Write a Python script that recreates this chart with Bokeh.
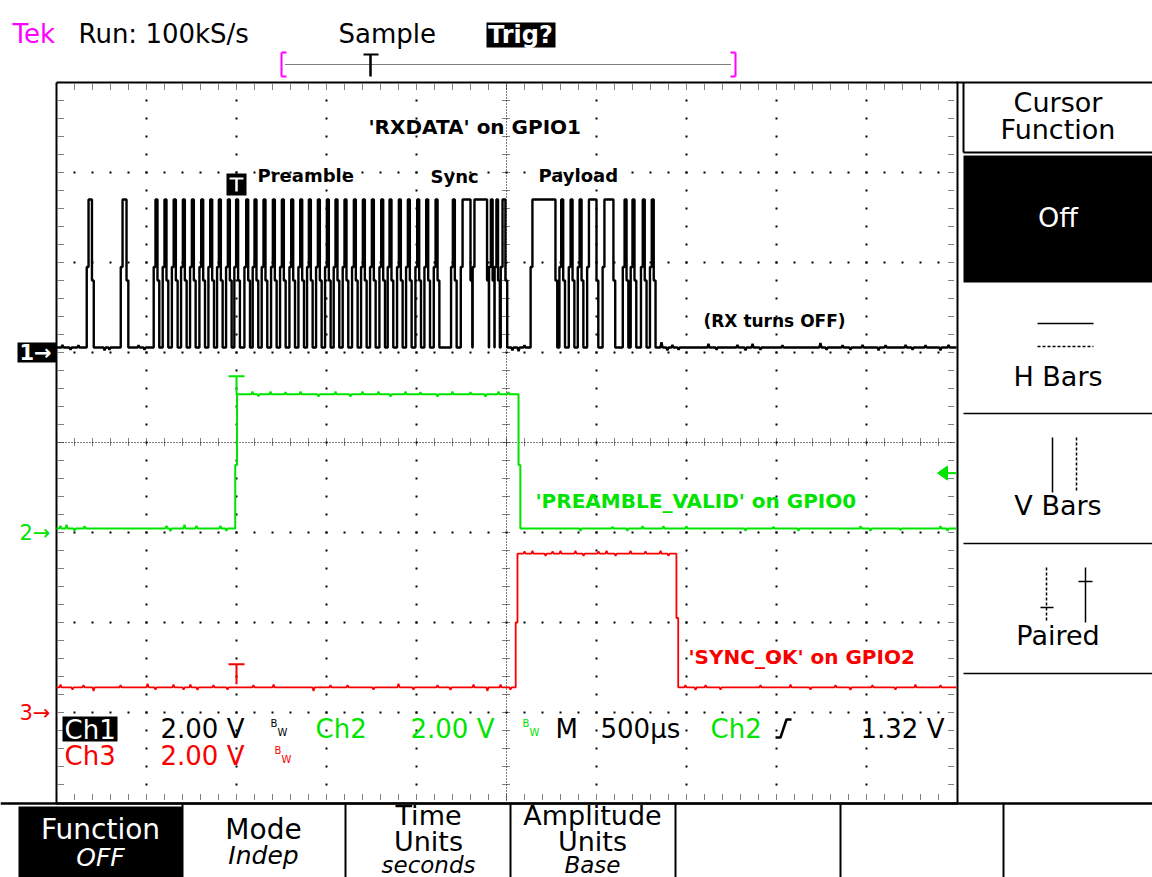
from bokeh.plotting import figure
from bokeh.models import Range1d
from bokeh.core.properties import value
from bokeh.embed import file_html
from bokeh.resources import INLINE

# ---------------- acquisition (time in ms from left screen edge, volts) ----------------
MS_PER_DIV = 0.5
VOLTS_PER_DIV = 2.0
SAMPLE_MS = 0.010          # 100 kS/s

# Ch1 'RXDATA' on GPIO1: high intervals
ch1_rise = [0.178, 0.367,
            0.550, 0.600, 0.651, 0.702, 0.752, 0.804, 0.854, 0.902, 0.952, 0.998,
            1.054, 1.100, 1.150, 1.202, 1.252, 1.304, 1.354, 1.402, 1.452, 1.502,
            1.550, 1.600, 1.652, 1.702, 1.752, 1.804, 1.850, 1.902, 1.952, 2.004,
            2.054, 2.106,
            2.202, 2.256, 2.322, 2.413, 2.444, 2.478,
            2.644, 2.804, 2.856, 2.906, 2.958, 3.044, 3.156, 3.200, 3.257, 3.307]
ch1_fall = [0.197, 0.389,
            0.561, 0.611, 0.663, 0.713, 0.763, 0.815, 0.865, 0.913, 0.963, 1.009,
            1.065, 1.111, 1.161, 1.213, 1.263, 1.315, 1.365, 1.413, 1.463, 1.513,
            1.561, 1.611, 1.663, 1.713, 1.763, 1.815, 1.861, 1.913, 1.963, 2.015,
            2.065, 2.117,
            2.213, 2.300, 2.392, 2.423, 2.453, 2.494,
            2.772, 2.815, 2.867, 2.917, 3.000, 3.094, 3.167, 3.211, 3.268, 3.318]
ch1_levels = dict(lo=0.11, hi=3.40, mid_r=1.90, mid_f=1.60)
ch1_noise_t = [0.033, 0.078, 0.122, 0.267, 0.294, 0.456, 0.489, 2.533, 2.567, 2.600,
               3.361, 3.394, 3.422, 3.456, 3.622, 3.667, 3.783, 3.828, 3.867, 3.911,
               4.033, 4.244, 4.278, 4.367, 4.411, 4.478, 4.567, 4.606, 4.717, 4.756,
               4.828, 4.911, 4.956]
ch1_noise_v = [0.06, -0.05, 0.05, -0.06, -0.05, 0.05, -0.05, -0.06, -0.08, 0.05,
               0.12, -0.06, 0.06, -0.05, 0.08, -0.05, 0.06, -0.06, 0.08, -0.05,
               0.05, 0.10, -0.05, 0.05, -0.05, 0.06, -0.06, 0.05, 0.06, -0.05,
               0.05, -0.06, 0.06]

# Ch2 'PREAMBLE_VALID' on GPIO0
ch2_rise = [1.003]
ch2_fall = [2.567]
ch2_levels = dict(lo=0.09, hi=3.07, mid_r=1.50, mid_f=1.50)
ch2_noise_t = [0.022, 0.056, 0.100, 0.156, 0.611, 0.633, 0.711, 0.778, 0.911, 0.944,
               1.089, 1.122, 1.189, 1.272, 1.356, 1.456, 1.550, 1.633, 1.700, 1.789,
               1.856, 1.939, 2.022, 2.117, 2.200, 2.300, 2.383, 2.456, 2.511,
               2.911, 3.089, 3.172, 3.256, 3.372, 3.500, 3.828, 3.983, 4.122, 4.467,
               4.522, 4.689, 4.911, 4.950]
ch2_noise_v = [0.06, 0.08, -0.05, 0.05, 0.06, -0.06, 0.08, 0.06, 0.06, -0.05,
               0.06, -0.04, 0.06, 0.05, 0.06, -0.05, 0.06, -0.05, 0.06, 0.06,
               -0.05, 0.06, 0.05, -0.05, 0.06, 0.05, -0.05, 0.06, 0.05,
               -0.05, 0.04, -0.05, 0.05, 0.05, 0.05, -0.05, 0.04, -0.05, 0.05,
               -0.05, -0.04, 0.05, -0.05]

# Ch3 'SYNC_OK' on GPIO2
ch3_rise = [2.561]
ch3_fall = [3.444]
ch3_levels = dict(lo=0.56, hi=3.53, mid_r=2.00, mid_f=2.10)
ch3_noise_t = [0.022, 0.089, 0.150, 0.206, 0.356, 0.506, 0.550, 0.650, 0.706, 0.744,
               0.783, 0.872, 0.950, 1.094, 1.206, 1.428, 1.522, 1.617, 1.761, 1.900,
               1.983, 2.117, 2.189, 2.317, 2.394, 2.467, 2.522,
               2.600, 2.644, 2.717, 2.756, 2.800, 2.883, 2.928, 3.011, 3.056, 3.106,
               3.189, 3.272, 3.356, 3.400,
               3.494, 3.550, 3.606, 3.689, 3.911, 4.078, 4.189, 4.328, 4.411, 4.533,
               4.661, 4.772, 4.911]
ch3_noise_v = [0.06, -0.05, 0.05, -0.08, 0.05, 0.08, -0.05, 0.06, -0.05, 0.06,
               -0.06, 0.05, -0.05, 0.05, 0.06, -0.08, 0.05, 0.05, -0.05, 0.08,
               -0.05, 0.05, -0.06, 0.06, -0.08, 0.06, -0.05,
               0.05, 0.06, -0.05, 0.05, 0.06, 0.06, -0.05, 0.05, 0.06, -0.05,
               0.06, 0.05, 0.06, -0.05,
               0.05, -0.06, 0.05, -0.05, 0.05, 0.06, -0.05, 0.05, -0.06, 0.05,
               -0.05, 0.06, 0.05]

# channel ground positions (divisions above bottom graticule line)
ch_offset = {"ch1": 5.0, "ch2": 3.0, "ch3": 1.0}
trigger_ms = 1.0
trigger_level_v = 1.32

# ---------------- screen layout ----------------
W, H = 1152, 877
GX0, GX1 = 56, 956        # graticule left/right (px)
GY0, GY1 = 82, 802        # graticule top/bottom (px)
DIV = 90                  # px per division
PX_PER_MS = DIV / MS_PER_DIV

GREEN = "#00e400"
RED = "#f80000"
MAGENTA = "#ff00ff"


def X(px):
    return (px - GX0) / PX_PER_MS


def Y(py):
    return (GY1 - py) / DIV


def TX(t):
    return GX0 + t * PX_PER_MS


def build_trace(rise, fall, lv, noise_t, noise_v, t_end=5.0, g=0.006):
    lo, hi, mr, mf = lv["lo"], lv["hi"], lv["mid_r"], lv["mid_f"]
    shapes = []
    for r, f in zip(rise, fall):
        shapes.append([(r - SAMPLE_MS, lo), (r - SAMPLE_MS, mr), (r, mr), (r, hi)])
        shapes.append([(f, hi), (f, mf), (f + SAMPLE_MS, mf), (f + SAMPLE_MS, lo)])
    for t, dv in zip(noise_t, noise_v):
        base = hi if any(r <= t <= f for r, f in zip(rise, fall)) else lo
        shapes.append([(t - g, base), (t, base + dv), (t + g, base)])
    shapes.sort(key=lambda s: s[0][0])
    pts = [(0.0, lo)] + [pt for s in shapes for pt in s] + [(t_end, lo)]
    return [q[0] for q in pts], [q[1] for q in pts]


p = figure(width=W, height=H,
           x_range=Range1d(X(0), X(W)), y_range=Range1d(Y(H), Y(0)),
           x_axis_type=None, y_axis_type=None,
           toolbar_location=None, output_backend="svg", min_border=0)
p.outline_line_color = None
p.background_fill_color = "white"
p.border_fill_color = "white"


def label(px, py, s, size, color="black", bold=False, italic=False,
          align="left", font="DejaVu Sans"):
    """Text whose vertical middle sits at screen row py."""
    style = "normal"
    if bold and italic:
        style = "bold italic"
    elif bold:
        style = "bold"
    elif italic:
        style = "italic"
    p.text(x=[X(px)], y=[Y(py)], text=[s], text_font=value(font),
           text_font_size=f"{size}px", text_color=color, text_font_style=style,
           text_align=align, text_baseline="middle")


def seg(x0, y0, x1, y1, color="black", width=1.0, dash="solid"):
    p.line([X(x0), X(x1)], [Y(y0), Y(y1)], line_color=color,
           line_width=width, line_dash=dash)


def box(x0, y0, x1, y1, color="black"):
    p.quad(left=[X(x0)], right=[X(x1)], top=[Y(y0)], bottom=[Y(y1)],
           fill_color=color, line_color=None)


# ---------------- graticule ----------------
dx, dy = [], []
for k in range(1, 10):
    if k == 5:
        continue
    for j in range(1, 40):
        dx.append(X(GX0 + DIV * k))
        dy.append(Y(GY0 + 18 * j))
for k in range(1, 8):
    if k == 4:
        continue
    for j in range(1, 50):
        dx.append(X(GX0 + 18 * j))
        dy.append(Y(GY0 + DIV * k))
p.scatter(dx, dy, marker="square", size=2, color="black", line_color=None)

cx, cy = (GX0 + GX1) / 2, (GY0 + GY1) / 2
seg(cx, GY0, cx, GY1, width=1, dash="1 2")
seg(GX0, cy, GX1, cy, width=1, dash="1 2")
tick_xs0, tick_xs1, tick_ys0, tick_ys1 = [], [], [], []
for j in range(1, 40):
    yy = GY0 + 18 * j
    for a, b in ((cx - 4, cx + 4), (GX0 + 2, GX0 + 8), (GX1 - 8, GX1 - 2)):
        tick_xs0.append(X(a)); tick_xs1.append(X(b))
        tick_ys0.append(Y(yy)); tick_ys1.append(Y(yy))
for j in range(1, 50):
    xx = GX0 + 18 * j
    for a, b in ((cy - 4, cy + 4), (GY0 + 2, GY0 + 8), (GY1 - 8, GY1 - 2)):
        tick_xs0.append(X(xx)); tick_xs1.append(X(xx))
        tick_ys0.append(Y(a)); tick_ys1.append(Y(b))
p.segment(tick_xs0, tick_ys0, tick_xs1, tick_ys1, line_color="black",
          line_width=1, line_dash="1 1")

# frame of the graticule
p.line([X(GX0), X(GX1 + 1), X(GX1 + 1), X(GX0), X(GX0)],
       [Y(GY0), Y(GY0), Y(GY1 + 1), Y(GY1 + 1), Y(GY0)],
       line_color="black", line_width=2)

# ---------------- traces ----------------
for lv, rise, fall, nt, nv, off, col, lw in (
        (ch3_levels, ch3_rise, ch3_fall, ch3_noise_t, ch3_noise_v, ch_offset["ch3"], RED, 1.8),
        (ch2_levels, ch2_rise, ch2_fall, ch2_noise_t, ch2_noise_v, ch_offset["ch2"], GREEN, 2.0),
        (ch1_levels, ch1_rise, ch1_fall, ch1_noise_t, ch1_noise_v, ch_offset["ch1"], "black", 2.4)):
    tx, vy = build_trace(rise, fall, lv, nt, nv)
    p.line(tx, [off + v / VOLTS_PER_DIV for v in vy], line_color=col, line_width=lw)

# trigger-point markers on each channel
tpx = TX(trigger_ms)
g_hi = GY1 - (ch_offset["ch2"] + ch2_levels["hi"] / VOLTS_PER_DIV) * DIV
r_lo = GY1 - (ch_offset["ch3"] + ch3_levels["lo"] / VOLTS_PER_DIV) * DIV
k_hi = GY1 - (ch_offset["ch1"] + ch1_levels["hi"] / VOLTS_PER_DIV) * DIV
seg(tpx - 8, g_hi - 18, tpx + 8, g_hi - 18, GREEN, 2)
seg(tpx, g_hi - 18, tpx, g_hi, GREEN, 2)
seg(tpx - 8, r_lo - 23, tpx + 8, r_lo - 23, RED, 2)
seg(tpx, r_lo - 23, tpx, r_lo - 3, RED, 2)
box(tpx - 10, k_hi - 26, tpx + 10, k_hi - 4, "black")
seg(tpx - 7, k_hi - 21, tpx + 7, k_hi - 21, "white", 2)
seg(tpx, k_hi - 21, tpx, k_hi - 8, "white", 2.5)

# trigger level arrow (right edge, Ch2)
tl = GY1 - (ch_offset["ch2"] + trigger_level_v / VOLTS_PER_DIV) * DIV
p.patch([X(937), X(947), X(947)], [Y(tl), Y(tl - 7), Y(tl + 7)],
        fill_color=GREEN, line_color=GREEN)
seg(946, tl, 956, tl, GREEN, 2)

# channel ground markers
for name, col in (("ch1", "white"), ("ch2", GREEN), ("ch3", RED)):
    gy = GY1 - ch_offset[name] * DIV
    if name == "ch1":
        box(17, gy - 10, 56, gy + 10, "black")
    label(19, gy, name[-1] + "\u2192", 21, col, bold=(name == "ch1"))

# ---------------- annotations ----------------
label(368, 126, "'RXDATA' on GPIO1", 20, bold=True)
label(257, 175, "Preamble", 18, bold=True)
label(430, 176, "Sync", 18, bold=True)
label(538, 175, "Payload", 18, bold=True)
label(703, 320, "(RX turns OFF)", 17, bold=True)
label(535, 500, "'PREAMBLE_VALID' on GPIO0", 20, GREEN, bold=True)
label(688, 656, "'SYNC_OK' on GPIO2", 20, RED, bold=True)

# ---------------- header ----------------
label(12, 33, "Tek", 26, MAGENTA)
label(78, 33, "Run: 100kS/s", 26)
label(338, 33, "Sample", 26)
box(486, 22, 555, 47, "black")
label(520, 34, "Trig?", 24, "white", bold=True, align="center")
seg(281, 52, 281, 76, MAGENTA, 2)
seg(281, 52, 286, 52, MAGENTA, 2)
seg(281, 76, 286, 76, MAGENTA, 2)
seg(735, 52, 735, 76, MAGENTA, 2)
seg(730, 52, 735, 52, MAGENTA, 2)
seg(730, 76, 735, 76, MAGENTA, 2)
seg(285, 64, 731, 64, "black", 1, "1 1")
seg(363, 54, 378, 54, "black", 2)
seg(370, 54, 370, 76, "black", 2.5)

# ---------------- status line ----------------
box(62, 716, 117, 741, "black")
label(64, 729, "Ch1", 26, "white")
label(160, 728, "2.00 V", 26)
label(270, 723, "B", 10)
label(277, 732, "W", 10)
label(315, 728, "Ch2", 26, GREEN)
label(410, 728, "2.00 V", 26, GREEN)
label(522, 723, "B", 10, GREEN)
label(529, 732, "W", 10, GREEN)
label(555, 728, "M", 26)
label(600, 728, "500\u00b5s", 26)
label(710, 728, "Ch2", 26, GREEN)
p.line([X(775), X(780), X(786), X(791)], [Y(737), Y(737), Y(719), Y(719)],
       line_color="black", line_width=2.5)
label(860, 728, "1.32 V", 26)
label(64, 755, "Ch3", 26, RED)
label(160, 755, "2.00 V", 26, RED)
label(274, 750, "B", 10, RED)
label(281, 759, "W", 10, RED)

# ---------------- side menu ----------------
MX0, MX1 = 963, W
MC = (MX0 + MX1) / 2
seg(GX1, GY0, MX1, GY0, "black", 2)
seg(MX0, GY0, MX0, 152, "black", 2)
seg(MX0, 152, MX1, 152, "black", 2)
box(MX0, 155, MX1, 282, "black")
label(MC, 102, "Cursor", 27, align="center")
label(MC, 129, "Function", 27, align="center")
label(MC, 217, "Off", 27, "white", align="center")
seg(1037, 323, 1093, 323, "black", 1.5)
seg(1037, 346, 1093, 346, "black", 1.5, "3 2")
label(MC, 376, "H Bars", 27, align="center")
for yy in (413, 543, 673):
    seg(MX0, yy, MX1, yy, "black", 1.5)
seg(1052, 437, 1052, 492, "black", 1.5)
seg(1076, 437, 1076, 492, "black", 1.5, "3 2")
label(MC, 505, "V Bars", 27, align="center")
seg(1046, 567, 1046, 620, "black", 1.5, "3 2")
seg(1040, 607, 1053, 607, "black", 1.5)
seg(1085, 567, 1085, 622, "black", 1.5)
seg(1078, 581, 1092, 581, "black", 1.5)
label(MC, 635, "Paired", 27, align="center")

# ---------------- bottom menu ----------------
seg(0, 803, W, 803, "black", 2.5)
box(18, 806, 182, H, "black")
for xx in (182, 345, 510, 675, 840, 1003):
    seg(xx, 803, xx, H, "black", 2)
label(100, 829, "Function", 28, "white", align="center")
label(100, 857, "OFF", 25, "white", italic=True, align="center")
label(263, 829, "Mode", 28, align="center")
label(263, 855, "Indep", 25, italic=True, align="center")
label(428, 815, "Time", 27, align="center")
label(428, 841, "Units", 27, align="center")
label(428, 864, "seconds", 23, italic=True, align="center")
label(592, 815, "Amplitude", 27, align="center")
label(592, 841, "Units", 27, align="center")
label(592, 864, "Base", 23, italic=True, align="center")

open("out.html", "w").write(file_html(p, INLINE))
